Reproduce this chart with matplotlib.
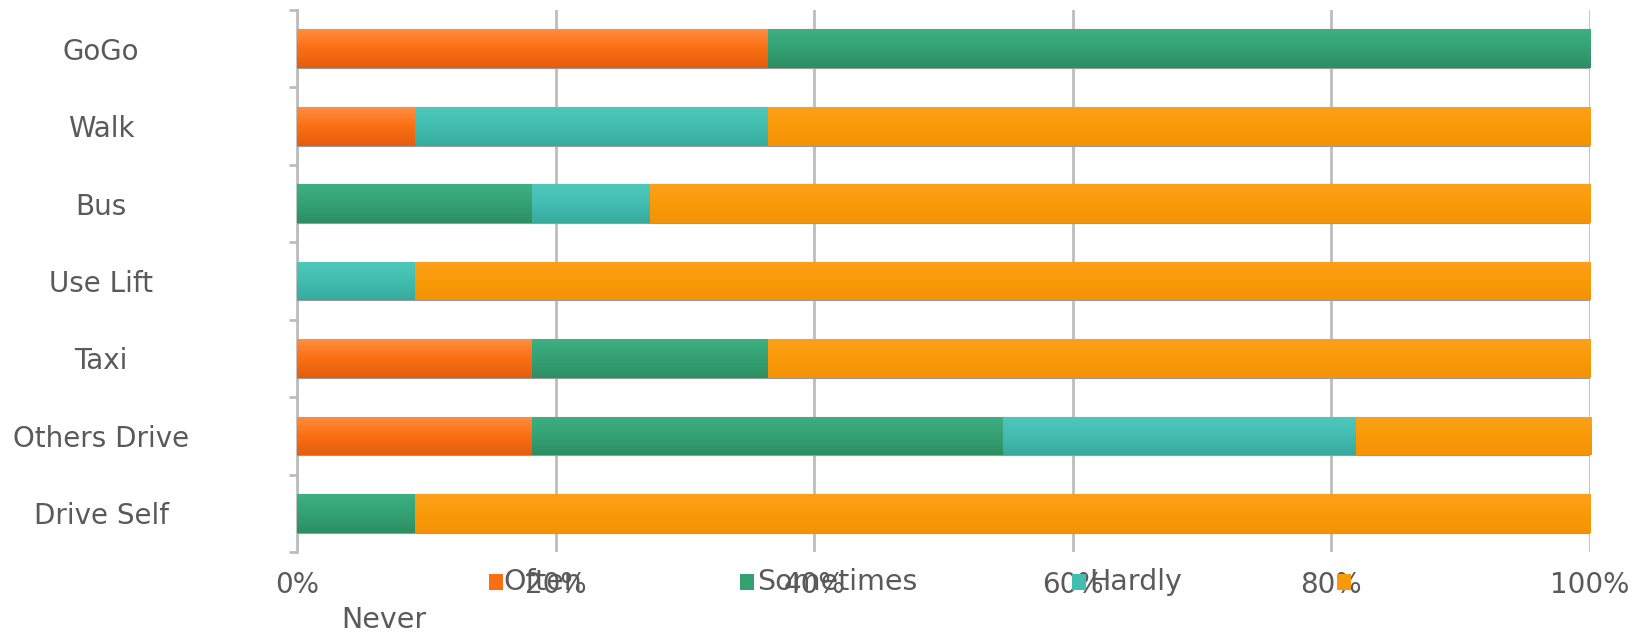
import numpy as np
import matplotlib
matplotlib.use("Agg")
import matplotlib.pyplot as plt
from matplotlib.colors import LinearSegmentedColormap
from matplotlib.patches import Rectangle

# Survey: how often each transport mode is used (share of respondents)
categories = ["GoGo", "Walk", "Bus", "Use Lift", "Taxi", "Others Drive", "Drive Self"]
series_names = ["Often", "Sometimes", "Hardly", "Never"]
often = [36.4, 9.1, 0.0, 0.0, 18.2, 18.2, 0.0]
sometimes = [63.6, 0.0, 18.2, 0.0, 18.2, 36.4, 9.1]
hardly = [0.0, 27.3, 9.1, 9.1, 0.0, 27.3, 0.0]
never = [0.0, 63.6, 72.7, 90.9, 63.6, 18.2, 90.9]
x_ticks = [0, 20, 40, 60, 80, 100]
x_tick_labels = ["0%", "20%", "40%", "60%", "80%", "100%"]

colors = ["#FB6E12", "#35A173", "#43BDB1", "#FA9A08"]
tops = ["#FF8E40", "#3DB084", "#4FC8BC", "#FBA11A"]
bottoms = ["#E45E10", "#2D8E62", "#38A99D", "#F39206"]

text_color = "#5A5A5A"
grid_color = "#BDBDBD"

W, H = 1644, 632
fig = plt.figure(figsize=(W / 100, H / 100), dpi=100)
ax = fig.add_axes([297 / W, 1 - 552 / H, (1590 - 297) / W, (552 - 10) / H])

n = len(categories)
y = np.arange(n)
values = [often, sometimes, hardly, never]
left = np.zeros(n)
for vals, c, ct, cb in zip(values, colors, tops, bottoms):
    vals = np.asarray(vals, dtype=float)
    bars = ax.barh(y, vals, left=left, height=0.5, color=c,
                   edgecolor="#9A9A9A", linewidth=0.8, zorder=3)
    cmap = LinearSegmentedColormap.from_list("g", [ct, c, cb])
    grad = np.linspace(0, 1, 64).reshape(-1, 1)
    for p, v in zip(bars.patches, vals):
        if v <= 0:
            continue
        x0, y0 = p.get_x(), p.get_y()
        w, h = p.get_width(), p.get_height()
        im = ax.imshow(grad, extent=[x0, x0 + w, y0 + h, y0], cmap=cmap,
                       aspect="auto", zorder=3.5, interpolation="bilinear")
        im.set_clip_path(p)
    left += vals

ax.set_xlim(0, 100)
ax.set_ylim(n - 0.5, -0.5)

ax.set_xticks(x_ticks)
ax.set_xticklabels(x_tick_labels)
ax.grid(axis="x", color=grid_color, linewidth=2, zorder=1)
ax.tick_params(axis="x", length=0, pad=14, labelsize=20, labelcolor=text_color)

ax.set_yticks(y)
ax.set_yticklabels(categories)
ax.set_yticks(np.arange(-0.5, n, 1.0), minor=True)
ax.tick_params(axis="y", which="major", length=0, pad=141,
               labelsize=20, labelcolor=text_color)
ax.tick_params(axis="y", which="minor", length=6, width=2, color=grid_color)
for lbl in ax.get_yticklabels():
    lbl.set_horizontalalignment("center")

for s in ["top", "right", "bottom"]:
    ax.spines[s].set_visible(False)
ax.spines["left"].set_color(grid_color)
ax.spines["left"].set_linewidth(2)
ax.set_axisbelow(True)

# Legend laid out along the bottom, last label wrapping onto a second line
legend_items = [
    (489, 503, 582),
    (740, 757, 582),
    (1072, 1089, 582),
    (1337, None, 582),
]
for (mx, tx, ty), name, c in zip(legend_items, series_names, colors):
    fig.patches.append(Rectangle((mx / W, 1 - (ty + 8) / H), 14 / W, 16 / H,
                                 transform=fig.transFigure, facecolor=c,
                                 edgecolor="none", zorder=5))
    if tx is not None:
        fig.text(tx / W, 1 - ty / H, name, ha="left", va="center",
                 fontsize=20.5, color=text_color)
fig.text(341 / W, 1 - 620 / H, series_names[3], ha="left", va="center",
         fontsize=20.5, color=text_color)

fig.savefig("out.png", dpi=100)
